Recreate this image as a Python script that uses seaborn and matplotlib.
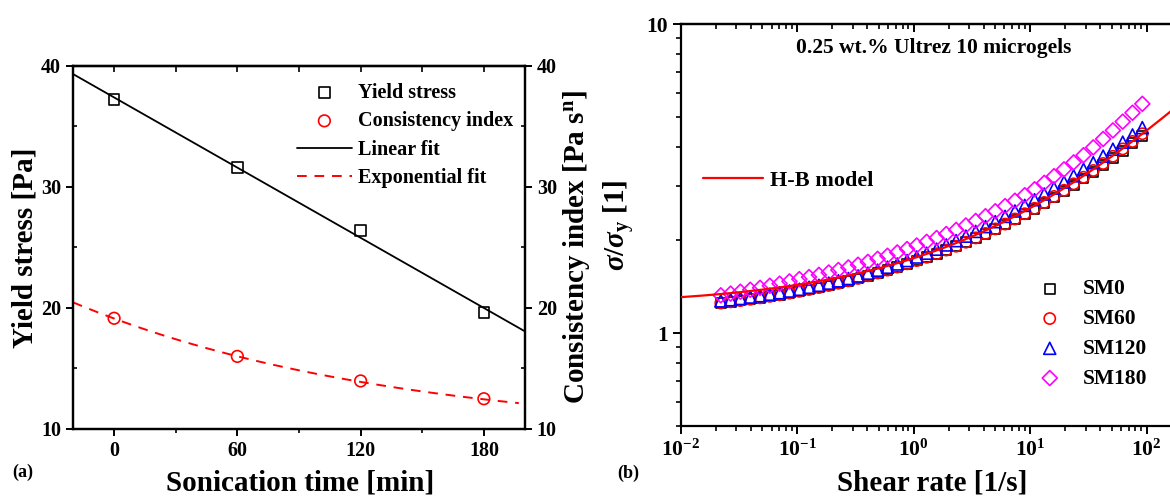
import numpy as np
import pandas as pd
import matplotlib
matplotlib.use('Agg')
from matplotlib import pyplot as plt
from matplotlib.ticker import MultipleLocator, LogLocator, NullFormatter, FuncFormatter
import seaborn as sns

# ---- (a) sonication series ----
sonication_time = [0, 60, 120, 180]
yield_stress = [37.2, 31.6, 26.4, 19.6]
consistency_index = [19.15, 16.0, 13.97, 12.5]
# exponential fit: y0 + A*exp(-t/tau)
exp_y0, exp_a, exp_tau = 9.41, 9.72, 155.0

# ---- (b) normalised flow curves ----
shear_rate = [0.0220, 0.0267, 0.0324, 0.0394, 0.0478, 0.0580, 0.0704, 0.0855, 0.104, 0.126,
              0.153, 0.186, 0.225, 0.274, 0.332, 0.403, 0.489, 0.594, 0.721, 0.875,
              1.06, 1.29, 1.57, 1.90, 2.31, 2.80, 3.40, 4.13, 5.01, 6.08,
              7.39, 8.97, 10.9, 13.2, 16.0, 19.5, 23.6, 28.7, 34.8, 42.3,
              51.3, 62.3, 75.6, 91.8]
sm0 = [1.251, 1.262, 1.274, 1.287, 1.300, 1.315, 1.330, 1.347, 1.365, 1.384,
       1.404, 1.426, 1.451, 1.476, 1.503, 1.533, 1.565, 1.599, 1.636, 1.676,
       1.717, 1.760, 1.807, 1.857, 1.911, 1.969, 2.032, 2.098, 2.169, 2.247,
       2.332, 2.423, 2.521, 2.631, 2.749, 2.877, 3.015, 3.164, 3.325, 3.500,
       3.690, 3.894, 4.115, 4.354]
sm60 = [1.251, 1.262, 1.274, 1.287, 1.300, 1.315, 1.330, 1.347, 1.365, 1.384,
        1.404, 1.426, 1.451, 1.476, 1.503, 1.533, 1.565, 1.599, 1.636, 1.676,
        1.717, 1.760, 1.807, 1.857, 1.911, 1.969, 2.033, 2.101, 2.174, 2.254,
        2.341, 2.434, 2.535, 2.648, 2.769, 2.900, 3.042, 3.195, 3.361, 3.541,
        3.736, 3.947, 4.174, 4.420]
sm120 = [1.271, 1.282, 1.294, 1.308, 1.321, 1.336, 1.351, 1.368, 1.386, 1.407,
         1.428, 1.451, 1.476, 1.502, 1.531, 1.563, 1.598, 1.634, 1.674, 1.717,
         1.763, 1.814, 1.869, 1.929, 1.992, 2.060, 2.134, 2.212, 2.295, 2.387,
         2.485, 2.591, 2.702, 2.820, 2.947, 3.083, 3.230, 3.390, 3.561, 3.742,
         3.939, 4.152, 4.381, 4.628]
sm180 = [1.325, 1.342, 1.361, 1.381, 1.401, 1.423, 1.445, 1.470, 1.495, 1.518,
         1.543, 1.571, 1.600, 1.631, 1.664, 1.700, 1.739, 1.779, 1.824, 1.871,
         1.921, 1.974, 2.031, 2.093, 2.158, 2.230, 2.307, 2.390, 2.480, 2.577,
         2.682, 2.795, 2.922, 3.065, 3.221, 3.389, 3.570, 3.767, 3.993, 4.252,
         4.532, 4.838, 5.169, 5.525]
samples = ['SM0', 'SM60', 'SM120', 'SM180']
# H-B model curve: a + c*rate**n
hb_a, hb_c, hb_n = 1.224, 0.524, 0.40

flow = pd.DataFrame({
    'rate': shear_rate * 4,
    'ratio': sm0 + sm60 + sm120 + sm180,
    'sample': np.repeat(samples, len(shear_rate)),
})
sample_style = {'SM0': ('s', 'black', 50), 'SM60': ('o', 'red', 65),
                'SM120': ('^', 'blue', 75), 'SM180': ('D', 'magenta', 58)}

sns.set_style('ticks', {'axes.edgecolor': 'black', 'text.color': 'black',
                        'xtick.color': 'black', 'ytick.color': 'black',
                        'axes.labelcolor': 'black'})
plt.rcParams['font.family'] = ['Liberation Serif', 'DejaVu Serif']
plt.rcParams['font.weight'] = 'bold'
plt.rcParams['axes.labelweight'] = 'bold'
plt.rcParams['mathtext.fontset'] = 'custom'
plt.rcParams['mathtext.rm'] = 'Liberation Serif:bold'
plt.rcParams['mathtext.it'] = 'Liberation Serif:italic:bold'
plt.rcParams['mathtext.bf'] = 'Liberation Serif:bold'
plt.rcParams['axes.linewidth'] = 1.6

fig = plt.figure(figsize=(11.7, 4.96), dpi=100)

# ================= (a) =================
ax1 = fig.add_axes([0.0624, 0.1351, 0.3863, 0.7319])
ax2 = ax1.twinx()

t_lin = np.linspace(-20, 200, 60)
slope, icpt = np.polyfit(sonication_time, yield_stress, 1)
sns.lineplot(x=t_lin, y=icpt + slope * t_lin, ax=ax1, color='black', lw=1.3,
             label='Linear fit')
sns.scatterplot(x=sonication_time, y=yield_stress, ax=ax1, marker='s', s=60,
                facecolor='none', edgecolor='black', color='black',
                linewidth=1.2, label='Yield stress', zorder=3)

t_exp = np.linspace(-20, 197, 60)
sns.lineplot(x=t_exp, y=exp_y0 + exp_a * np.exp(-t_exp / exp_tau), ax=ax2,
             color='red', lw=1.4, linestyle=(0, (5, 4)), label='Exponential fit')
sns.scatterplot(x=sonication_time, y=consistency_index, ax=ax2, marker='o', s=70,
                facecolor='none', edgecolor='red', color='red',
                linewidth=1.2, label='Consistency index', zorder=3)

for ax in (ax1, ax2):
    ax.set_xlim(-20, 200)
    ax.set_ylim(10, 40)
    ax.yaxis.set_major_locator(MultipleLocator(10))
    ax.yaxis.set_minor_locator(MultipleLocator(5))
ax1.xaxis.set_major_locator(MultipleLocator(60))
ax1.xaxis.set_minor_locator(MultipleLocator(30))
ax1.tick_params(axis='both', which='major', direction='out', length=5, width=1.4,
                labelsize=14.5)
ax1.tick_params(axis='both', which='minor', direction='out', length=3, width=1.2)
ax1.tick_params(axis='y', which='minor', direction='in')
ax2.tick_params(axis='y', which='major', direction='out', length=5, width=1.4,
                labelsize=14.5)
ax2.tick_params(axis='y', which='minor', direction='in', length=3, width=1.2)
top1 = ax1.secondary_xaxis('top')
top1.xaxis.set_major_locator(MultipleLocator(60))
top1.xaxis.set_minor_locator(MultipleLocator(30))
top1.tick_params(which='both', direction='in', length=4, width=1.2, labeltop=False)

ax1.set_xlabel('Sonication time [min]', fontsize=21)
ax1.set_ylabel('Yield stress [Pa]', fontsize=21)
ax2.set_ylabel('Consistency index [Pa s$^\\mathregular{n}$]', fontsize=21)
ax1.xaxis.set_label_coords(0.502, -0.149)
ax1.yaxis.set_label_coords(-0.107, 0.5)
ax2.yaxis.set_label_coords(1.113, 0.5)
for lab in (ax1.xaxis.label, ax1.yaxis.label, ax2.yaxis.label):
    lab.set_va('center')
    lab.set_ha('center')

h1, l1 = ax1.get_legend_handles_labels()
h2, l2 = ax2.get_legend_handles_labels()
hmap = dict(zip(l1 + l2, h1 + h2))
order = ['Yield stress', 'Consistency index', 'Linear fit', 'Exponential fit']
if ax1.get_legend():
    ax1.get_legend().remove()
ax2.legend([hmap[k] for k in order], order, loc='upper left',
           bbox_to_anchor=(0.496, 0.954), frameon=False, fontsize=14.5,
           handlelength=2.7, handletextpad=0.3, labelspacing=0.42,
           borderaxespad=0, borderpad=0)

# ================= (b) =================
ax3 = fig.add_axes([0.582, 0.1411, 0.428, 0.810])
ax3.set(xscale='log', yscale='log')
for name in samples:
    mk, col, size = sample_style[name]
    sub = flow[flow['sample'] == name]
    sns.scatterplot(data=sub, x='rate', y='ratio', ax=ax3, marker=mk, s=size,
                    facecolor='none', edgecolor=col, color=col, linewidth=1.2,
                    label=name)

g = np.logspace(-2, np.log10(200), 200)
sns.lineplot(x=g, y=hb_a + hb_c * g ** hb_n, ax=ax3, color='red', lw=1.6,
             label='H-B model', zorder=4)

ax3.set_xlim(0.01, 200)
ax3.set_ylim(0.5, 10)
ax3.spines['right'].set_visible(False)
ax3.xaxis.set_major_locator(LogLocator(base=10, numticks=10))
ax3.xaxis.set_minor_locator(LogLocator(base=10, subs=np.arange(2, 10), numticks=20))
ax3.yaxis.set_major_locator(LogLocator(base=10, numticks=10))
ax3.yaxis.set_minor_locator(LogLocator(base=10, subs=np.arange(2, 10), numticks=20))
ax3.yaxis.set_major_formatter(FuncFormatter(lambda v, p: f'{v:g}'))
ax3.yaxis.set_minor_formatter(NullFormatter())
ax3.xaxis.set_minor_formatter(NullFormatter())
ax3.tick_params(axis='both', which='major', direction='out', length=6, width=1.4,
                labelsize=15.5, right=False)
ax3.tick_params(axis='both', which='minor', direction='out', length=3.5, width=1.2,
                right=False)
top3 = ax3.secondary_xaxis('top')
top3.xaxis.set_major_locator(LogLocator(base=10, numticks=10))
top3.xaxis.set_minor_locator(LogLocator(base=10, subs=np.arange(2, 10), numticks=20))
top3.xaxis.set_minor_formatter(NullFormatter())
top3.tick_params(which='major', direction='in', length=6, width=1.4, labeltop=False)
top3.tick_params(which='minor', direction='in', length=3.5, width=1.2, labeltop=False)

ax3.set_xlabel('Shear rate [1/s]', fontsize=21)
ax3.set_ylabel('$\\sigma/\\sigma_\\mathregular{y}$ [1]', fontsize=21)
ax3.xaxis.set_label_coords(0.501, -0.142)
ax3.yaxis.set_label_coords(-0.122, 0.5)
for lab in (ax3.xaxis.label, ax3.yaxis.label):
    lab.set_va('center')
    lab.set_ha('center')

h3, l3 = ax3.get_legend_handles_labels()
hmap3 = dict(zip(l3, h3))
leg_hb = ax3.legend([hmap3['H-B model']], ['H-B model'], loc='upper left',
                    bbox_to_anchor=(0.044, 0.636), frameon=False, fontsize=16,
                    handlelength=2.7, handletextpad=0.3, borderaxespad=0,
                    borderpad=0)
ax3.add_artist(leg_hb)
ax3.legend([hmap3[k] for k in samples], samples, loc='upper left',
           bbox_to_anchor=(0.715, 0.365), frameon=False, fontsize=15.5,
           handlelength=1.0, handletextpad=1.05, labelspacing=0.45,
           borderaxespad=0, borderpad=0)

ax3.text(0.505, 0.942, '0.25 wt.% Ultrez 10 microgels', transform=ax3.transAxes,
         ha='center', va='center', fontsize=15.5, fontweight='bold')

fig.text(12 / 1170, 1 - 472 / 496, '(a)', fontsize=13, fontweight='bold', va='center')
fig.text(617 / 1170, 1 - 473 / 496, '(b)', fontsize=13, fontweight='bold', va='center')

fig.savefig('out.png', dpi=100)
